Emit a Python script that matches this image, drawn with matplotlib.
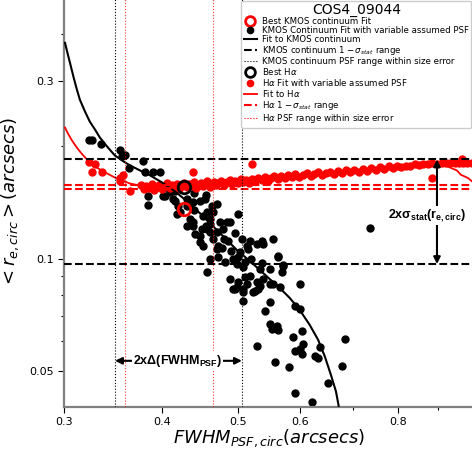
import matplotlib
matplotlib.use('Agg')
import matplotlib.pyplot as plt
from matplotlib.lines import Line2D
from matplotlib.ticker import FixedLocator, FixedFormatter, NullFormatter

plt.rcParams['mathtext.fontset'] = 'custom'
plt.rcParams['mathtext.it'] = 'DejaVu Sans:italic'
plt.rcParams['mathtext.rm'] = 'DejaVu Sans'
plt.rcParams['mathtext.sf'] = 'DejaVu Sans'
plt.rcParams['mathtext.bf'] = 'Liberation Sans:bold'

# KMOS continuum fits with variable assumed PSF
cont_fwhm = [0.3229, 0.3260, 0.3344, 0.3535, 0.3556, 0.3588, 0.3630, 0.3783, 0.3805, 0.3896,
             0.3977, 0.3839, 0.3839, 0.4036, 0.4156, 0.4217, 0.4382, 0.4472, 0.4539, 0.4702,
             0.5000, 0.4566, 0.4382, 0.4499, 0.4605, 0.4472, 0.4702, 0.4772, 0.4883, 0.4855,
             0.4605, 0.4715, 0.4814, 0.4926, 0.4985, 0.5072, 0.5151, 0.5178, 0.5288, 0.5386,
             0.5547, 0.5629, 0.5713, 0.5490, 0.5332, 0.5386, 0.5178, 0.5000, 0.4985, 0.5135,
             0.5332, 0.5547, 0.5995, 0.4928, 0.5072, 0.5255, 0.5629, 0.5370, 0.5713, 0.4566,
             0.5696, 0.4883, 0.5105, 0.5288, 0.5490, 0.5654, 0.4958, 0.5072, 0.5225, 0.5305,
             0.5072, 0.5490, 0.5412, 0.5914, 0.5995, 0.5490, 0.5612, 0.5531, 0.5629, 0.6035,
             0.5879, 0.6053, 0.5995, 0.5914, 0.6035, 0.6848, 0.6357, 0.6271, 0.6326, 0.5288,
             0.5579, 0.5810, 0.6788, 0.6517, 0.5914, 0.6215, 0.7360,
             0.4012, 0.4095, 0.4132, 0.4193, 0.4181, 0.4305, 0.4342, 0.4382, 0.4512, 0.4633,
             0.4646, 0.4305, 0.4408, 0.4472, 0.4566, 0.4605, 0.4512, 0.4646, 0.4715, 0.4786,
             0.4842, 0.5058, 0.5135, 0.5370, 0.5028,
             0.4050, 0.4150, 0.4250, 0.4400, 0.4550,
             0.4400, 0.4600, 0.4700, 0.4800, 0.4900, 0.5000, 0.5100, 0.4300, 0.4550, 0.4750,
             0.4950, 0.5200]
cont_re = [0.2074, 0.2074, 0.2024, 0.1950, 0.1890, 0.1900, 0.1745, 0.1823, 0.1710, 0.1710,
           0.1710, 0.1470, 0.1390, 0.1470, 0.1425, 0.1332, 0.1415, 0.1425, 0.1443, 0.1400,
           0.1316, 0.1332, 0.1252, 0.1200, 0.1178, 0.1107, 0.1061, 0.1071, 0.1253, 0.1114,
           0.0997, 0.1010, 0.0979, 0.0997, 0.0967, 0.0949, 0.1061, 0.1114, 0.1092, 0.1092,
           0.1128, 0.1010, 0.0955, 0.0937, 0.0937, 0.0881, 0.0898, 0.0865, 0.0840, 0.0855,
           0.0845, 0.0855, 0.0855, 0.0829, 0.0814, 0.0819, 0.1016, 0.0973, 0.0961, 0.0920,
           0.0920, 0.0881, 0.0893, 0.0865, 0.0855, 0.0840, 0.0829, 0.0829, 0.0814, 0.0829,
           0.0771, 0.0765, 0.0724, 0.0747, 0.0733, 0.0668, 0.0660, 0.0648, 0.0644, 0.0640,
           0.0617, 0.0591, 0.0573, 0.0566, 0.0555, 0.0609, 0.0580, 0.0548, 0.0541, 0.0583,
           0.0529, 0.0513, 0.0516, 0.0465, 0.0437, 0.0413, 0.1207,
           0.1470, 0.1506, 0.1443, 0.1383, 0.1316, 0.1443, 0.1276, 0.1222, 0.1300, 0.1383,
           0.1332, 0.1222, 0.1163, 0.1149, 0.1200, 0.1237, 0.1080, 0.1128, 0.1080, 0.1200,
           0.1253, 0.1128, 0.1080, 0.1114, 0.1041,
           0.1560, 0.1520, 0.1580, 0.1500, 0.1480,
           0.1350, 0.1280, 0.1180, 0.1130, 0.1050, 0.1010, 0.0980, 0.1380, 0.1220, 0.1250,
           0.1170, 0.1000]

# H-alpha fits with variable assumed PSF
ha_fwhm = [0.3229, 0.3286, 0.3260, 0.3354, 0.3535, 0.3567, 0.3535, 0.3641,
           0.376, 0.379, 0.382, 0.385, 0.388, 0.391, 0.394, 0.397, 0.400, 0.403,
           0.406, 0.409, 0.412, 0.415, 0.418, 0.421, 0.424, 0.427, 0.430,
           0.433, 0.436, 0.439, 0.442, 0.445, 0.448, 0.451, 0.454, 0.457, 0.460,
           0.463, 0.466, 0.469, 0.472, 0.476, 0.480, 0.484, 0.488, 0.492, 0.496,
           0.500, 0.504, 0.508, 0.512, 0.516, 0.521, 0.526, 0.531, 0.536, 0.541,
           0.546, 0.551, 0.556, 0.562, 0.568, 0.574, 0.580, 0.586, 0.592, 0.598,
           0.605, 0.612, 0.619, 0.626, 0.633, 0.640, 0.647, 0.655, 0.663, 0.671,
           0.679, 0.687, 0.695, 0.704, 0.713, 0.722, 0.731, 0.740, 0.750, 0.758,
           0.768, 0.778, 0.788, 0.798, 0.808, 0.818, 0.829, 0.840, 0.851, 0.862,
           0.873, 0.885, 0.897, 0.909, 0.921, 0.933, 0.945, 0.957, 0.969, 0.981,
           0.993, 0.438, 0.521, 0.965, 0.884]
ha_re = [0.1812, 0.1790, 0.1710, 0.1710, 0.1650, 0.1679, 0.1612, 0.1515,
         0.158, 0.154, 0.157, 0.155, 0.159, 0.153, 0.156, 0.158, 0.154, 0.157,
         0.160, 0.155, 0.158, 0.156, 0.159, 0.154, 0.157, 0.160, 0.156,
         0.159, 0.157, 0.161, 0.155, 0.158, 0.160, 0.157, 0.159, 0.162, 0.156,
         0.159, 0.161, 0.158, 0.160, 0.162, 0.158, 0.161, 0.163, 0.159, 0.162,
         0.160, 0.164, 0.161, 0.163, 0.160, 0.164, 0.162, 0.165, 0.163, 0.166,
         0.162, 0.165, 0.167, 0.164, 0.167, 0.165, 0.168, 0.166, 0.169, 0.166,
         0.168, 0.170, 0.167, 0.169, 0.171, 0.168, 0.170, 0.171, 0.169, 0.172,
         0.170, 0.173, 0.171, 0.173, 0.171, 0.174, 0.172, 0.175, 0.173, 0.176,
         0.174, 0.177, 0.175, 0.177, 0.176, 0.177, 0.177, 0.179, 0.178, 0.179,
         0.179, 0.180, 0.179, 0.181, 0.180, 0.181, 0.180, 0.181, 0.180, 0.181,
         0.180, 0.1703, 0.1790, 0.1850, 0.1650]

# fitted curves
cont_fit_fwhm = [0.3009, 0.3035, 0.3062, 0.3089, 0.3116, 0.3143, 0.3191, 0.3236, 0.3286, 0.3333,
                 0.3404, 0.3483, 0.3557, 0.3641, 0.3750, 0.3862, 0.4000, 0.4156, 0.4305, 0.4472,
                 0.4633, 0.4814, 0.4985, 0.5178, 0.5332, 0.5490, 0.5654, 0.5822, 0.5995, 0.6173,
                 0.6326, 0.6454, 0.6575, 0.6668, 0.6720]
cont_fit_re = [0.379, 0.352, 0.327, 0.3037, 0.2838, 0.2669, 0.2479, 0.2331, 0.2219, 0.2112,
               0.1999, 0.1891, 0.1834, 0.1778, 0.1724, 0.1672, 0.1601, 0.1515, 0.1425, 0.1323,
               0.1229, 0.1135, 0.1054, 0.0985, 0.0932, 0.0881, 0.0834, 0.0784, 0.0728, 0.0664,
               0.0606, 0.0546, 0.0485, 0.0440, 0.0403]
ha_fit_fwhm = [0.3009, 0.3035, 0.3071, 0.3108, 0.3143, 0.3191, 0.3236, 0.3286, 0.3333, 0.3404,
               0.3483, 0.3557, 0.3641, 0.3805, 0.4036, 0.4266, 0.4742, 0.5178, 0.5995, 0.694,
               0.804, 0.852, 0.8866, 0.913, 0.931, 0.951, 0.962, 0.982, 0.994]
ha_fit_re = [0.2247, 0.2165, 0.2074, 0.1999, 0.1938, 0.1868, 0.1812, 0.1767, 0.1735, 0.1693,
             0.1650, 0.1621, 0.1590, 0.1560, 0.1546, 0.1557, 0.1584, 0.1622, 0.1663, 0.1701,
             0.1744, 0.1771, 0.1790, 0.1784, 0.1757, 0.1724, 0.1679, 0.1646, 0.1612]

best_cont = (0.4266, 0.1357)
best_ha = (0.4266, 0.1557)

cont_stat_range = [0.0967, 0.1845]
ha_stat_range = [0.1539, 0.1577]
cont_psf_range = [0.3485, 0.5058]
ha_psf_range = [0.359, 0.4646]

fig = plt.figure(figsize=(4.72, 4.5), dpi=100)
ax = fig.add_axes([64 / 472, 43 / 450, 410 / 472, 409 / 450])
ax.set_xscale('log')
ax.set_yscale('log')

ax.plot(cont_fwhm, cont_re, 'o', color='black', ms=5, zorder=2)
ax.plot(ha_fwhm, ha_re, 'o', color='red', ms=5, mec='red', zorder=2.1)

ax.plot(cont_fit_fwhm, cont_fit_re, '-', color='black', lw=1.5, zorder=3)
ax.plot(ha_fit_fwhm, ha_fit_re, '-', color='red', lw=1.3, zorder=3)

for v in cont_stat_range:
    ax.axhline(v, color='black', ls='--', lw=1.5, zorder=3)
for v in ha_stat_range:
    ax.axhline(v, color='red', ls='--', lw=1.5, zorder=3)
for v in cont_psf_range:
    ax.axvline(v, color='black', ls=':', lw=0.8, zorder=3)
for v in ha_psf_range:
    ax.axvline(v, color='red', ls=':', lw=0.8, alpha=0.8, zorder=3)

ax.plot(*best_cont, 'o', mfc='none', mec='red', mew=2, ms=9, zorder=5)
ax.plot(*best_ha, 'o', mfc='none', mec='black', mew=2, ms=9, zorder=5)

# arrows
arr = dict(arrowstyle='<|-|>', color='black', lw=1.5, mutation_scale=10, shrinkA=0, shrinkB=0)
ax.annotate('', xy=(0.897, cont_stat_range[1]), xytext=(0.897, cont_stat_range[0]), arrowprops=arr, zorder=4)
ax.text(0.872, 0.1307, r'$\mathbf{2x\sigma_{stat}(r_{e,circ})}$', ha='center', va='center', fontsize=9,
        bbox=dict(facecolor='white', edgecolor='none', pad=1), zorder=4.5)
ax.annotate('', xy=(cont_psf_range[0], 0.0532), xytext=(cont_psf_range[1], 0.0532), arrowprops=arr, zorder=4)
ax.text(0.4187, 0.0532, r'$\mathbf{2x\Delta(FWHM_{PSF})}$', ha='center', va='center', fontsize=9,
        bbox=dict(facecolor='white', edgecolor='none', pad=1), zorder=4.5)

ax.set_xlim(0.3, 1.0)
ax.set_ylim(0.04, 0.5)
ax.xaxis.set_major_locator(FixedLocator([0.3, 0.4, 0.5, 0.6, 0.8, 1.0]))
ax.xaxis.set_major_formatter(FixedFormatter(['0.3', '0.4', '0.5', '0.6', '0.8', '1']))
ax.xaxis.set_minor_locator(FixedLocator([0.7, 0.9]))
ax.xaxis.set_minor_formatter(NullFormatter())
ax.yaxis.set_major_locator(FixedLocator([0.05, 0.1, 0.3]))
ax.yaxis.set_major_formatter(FixedFormatter(['0.05', '0.1', '0.3']))
ax.yaxis.set_minor_locator(FixedLocator([0.06, 0.07, 0.08, 0.09, 0.2, 0.4]))
ax.yaxis.set_minor_formatter(NullFormatter())
ax.tick_params(which='major', length=4, width=0.8, labelsize=8)
ax.tick_params(which='minor', length=2.5, width=0.8)
for s in ['top', 'right']:
    ax.spines[s].set_visible(False)
for s in ['left', 'bottom']:
    ax.spines[s].set_color('#808080')
    ax.spines[s].set_linewidth(1.6)

ax.set_xlabel(r'$FWHM_{PSF,circ}(arcsecs)$', fontsize=13, labelpad=0)
ax.set_ylabel(r'$< r_{e,circ} > (arcsecs)$', fontsize=13, labelpad=6)

handles = [
    Line2D([], [], marker='o', ls='none', mfc='none', mec='red', mew=2, ms=7),
    Line2D([], [], marker='o', ls='none', color='black', ms=4.5),
    Line2D([], [], color='black', lw=1.5),
    Line2D([], [], color='black', ls='--', lw=1.5),
    Line2D([], [], color='black', ls=':', lw=0.8),
    Line2D([], [], marker='o', ls='none', mfc='none', mec='black', mew=2, ms=7),
    Line2D([], [], marker='o', ls='none', color='red', ms=4.5),
    Line2D([], [], color='red', lw=1.3),
    Line2D([], [], color='red', ls='--', lw=1.5),
    Line2D([], [], color='red', ls=':', lw=0.8),
]
labels = [
    'Best KMOS continuum Fit',
    'KMOS Continuum Fit with variable assumed PSF',
    'Fit to KMOS continuum',
    r'KMOS continuum $1-\sigma_{stat}$ range',
    'KMOS continuum PSF range within size error',
    r'Best H$\alpha$',
    r'H$\alpha$ Fit with variable assumed PSF',
    r'Fit to H$\alpha$',
    r'H$\alpha$ $1-\sigma_{stat}$ range',
    r'H$\alpha$ PSF range within size error',
]
leg = ax.legend(handles, labels, loc='upper right', fontsize=6.2, title='COS4_09044', title_fontsize=10,
                labelspacing=0.0, handlelength=1.5, handletextpad=0.6, borderpad=0.3,
                borderaxespad=0.3, framealpha=1)
leg.set_zorder(10)

fig.savefig('out.png', dpi=100)
